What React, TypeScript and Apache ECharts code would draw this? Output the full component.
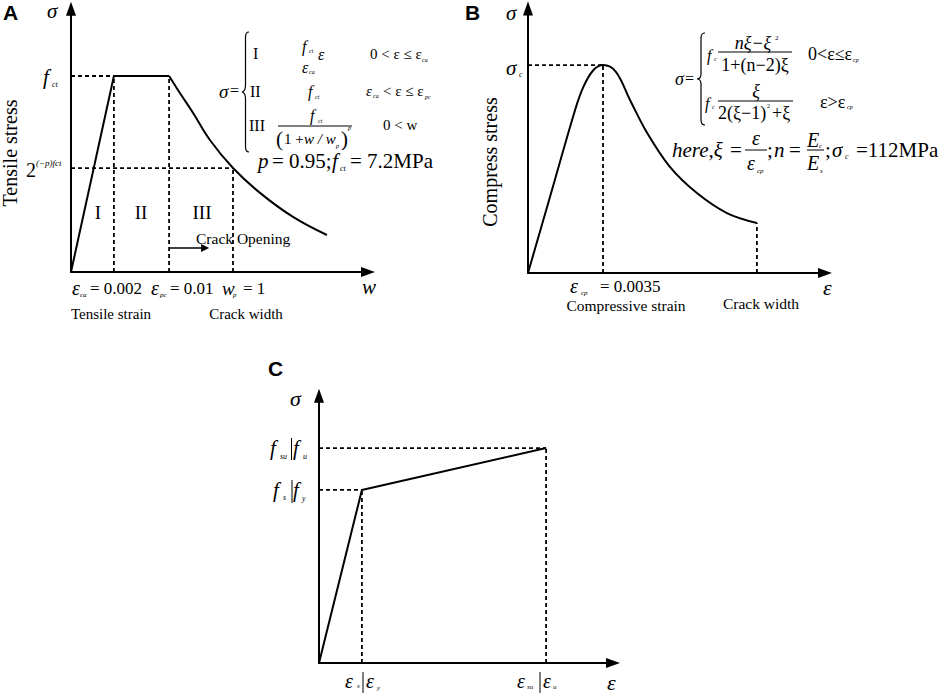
import React, { useEffect, useRef } from 'react';
import * as echarts from 'echarts';

// ---------- Data (schematic units) ----------
// Panel A: tensile stress vs strain / crack width
const A_LOADING = [[0, 0], [14.3, 72.6], [32.7, 72.6]];
const A_SOFTENING = [[32.7, 72.6], [36.3, 66.3], [40.7, 58.9], [46.3, 48.9], [54, 38.5], [63, 29.3], [74, 20.4], [85.3, 13.7]];
const A_GUIDE_BOTH = [[14.3, 72.6], [54, 38.5]];
const A_GUIDE_VERTICAL = [[32.7, 72.6]];
const A_CRACK_ARROW = [[32.7, 8.9], [44.7, 8.9]];

// Panel B: compressive stress
const B_CURVE = [[0, 0], [7.8, 30], [15.7, 60.4], [18.5, 69], [21.7, 75], [25, 77], [29.3, 74.5], [34, 64.1], [39.7, 51.9], [47.3, 39.3], [56.3, 29.6], [66.3, 22.2], [76.3, 18.5]];
const B_GUIDE_BOTH = [[25, 77]];
const B_GUIDE_VERTICAL = [[76.3, 18.5]];

// Panel C: steel bilinear
const C_CURVE = [[0, 0], [14.3, 64.1], [75.7, 79.6]];
const C_GUIDE_BOTH = [[14.3, 64.1], [75.7, 79.6]];

// axis extents [xMax, yMax]
const A_EXTENT = [99, 97.5];
const B_EXTENT = [99, 98];
const C_EXTENT = [98, 99];

// ---------- Layout ----------
const PX_X = 3;
const PX_Y = 2.7;
const ORIGINS = [[71, 272], [528, 273], [319, 663]];
const EXTENTS = [A_EXTENT, B_EXTENT, C_EXTENT];

const SERIF = '"Liberation Serif", "Times New Roman", Times, serif';
const SANS = '"Liberation Sans", Arial, Helvetica, sans-serif';

echarts.graphic.registerShape(
  'braceA',
  echarts.graphic.extendPath(
    'M7,0 C4.5,0 3.5,1.5 3.5,5 L3.5,53 C3.5,57 2.5,59.5 0,60 C2.5,60.5 3.5,63 3.5,67 L3.5,115 C3.5,118.5 4.5,120 7,120',
    {}
  )
);
echarts.graphic.registerShape(
  'braceB',
  echarts.graphic.extendPath(
    'M8,0 C5,0 4,1.5 4,5 L4,41 C4,44 3,46 0,46 C3,46 4,48 4,51 L4,87 C4,90.5 5,92 8,92',
    {}
  )
);

type TOpt = { it?: boolean; align?: string; font?: string; bold?: boolean; rot?: number };
const T = (x: number, y: number, text: string, size: number, o: TOpt = {}) => ({
  type: 'text',
  x,
  y,
  rotation: o.rot || 0,
  silent: true,
  z: 10,
  style: {
    text,
    fontSize: size,
    fontFamily: o.font || SERIF,
    fontStyle: o.it ? 'italic' : 'normal',
    fontWeight: o.bold ? 'bold' : 'normal',
    fill: '#000',
    textAlign: o.align || 'left',
    textVerticalAlign: 'middle',
  },
});
const I = { it: true };
const L = (x1: number, y1: number, x2: number, y2: number, w = 1) => ({
  type: 'line',
  silent: true,
  z: 10,
  shape: { x1, y1, x2, y2 },
  style: { stroke: '#000', lineWidth: w },
});

function buildGraphics() {
  const g: any[] = [];
  // ----- Panel A -----
  g.push(T(3, 12, 'A', 21, { font: SANS, bold: true }));
  g.push(T(47, 11, 'σ', 21, I));
  g.push(T(10, 153, 'Tensile stress', 20, { align: 'center', rot: Math.PI / 2 }));
  g.push(T(43, 77, 'f', 21, I), T(52, 84, 'ct', 8, I));
  g.push(T(26, 170, '2', 20), T(36, 163, '(−p)fct', 9, I));
  g.push(T(72, 288, 'ε', 20, I), T(80, 295, 'ca', 7, I), T(90, 288, '= 0.002', 17));
  g.push(T(151, 288, 'ε', 20, I), T(160, 295, 'pc', 7, I), T(170, 288, '= 0.01', 17));
  g.push(T(222, 288, 'w', 19, I), T(233, 295, 'p', 7, I), T(243, 288, '= 1', 17));
  g.push(T(362, 287, 'w', 21, I));
  g.push(T(111, 314, 'Tensile strain', 15, { align: 'center' }), T(246, 314, 'Crack width', 15, { align: 'center' }));
  g.push(T(98, 212, 'I', 19, { align: 'center' }), T(141, 212, 'II', 19, { align: 'center' }), T(202, 212, 'III', 19, { align: 'center' }));
  g.push(T(196, 238, 'Crack Opening', 15.5));
  // formula A
  g.push(T(219, 91, 'σ', 19, I), T(230, 90, '=', 16));
  g.push({ type: 'braceA', x: 242, y: 32, silent: true, z: 10, style: { stroke: '#000', fill: 'none', lineWidth: 1.2 } });
  g.push(T(253, 53, 'I', 16), T(250, 91, 'II', 16), T(249, 125, 'III', 16));
  g.push(T(302, 46, 'f', 16, I), T(309, 51, 'ct', 6, I), T(302, 67, 'ε', 16, I), T(309, 72, 'ca', 6, I), T(318, 54, 'ε', 16, I));
  g.push(T(370, 54, '0 < ε ≤ ε', 15), T(422, 60, 'ca', 6, I));
  g.push(T(308, 91, 'f', 16, I), T(315, 97, 'ct', 6, I));
  g.push(T(366, 91, 'ε', 15, I), T(373, 96, 'ca', 6, I), T(383, 91, '< ε ≤ ε', 15), T(425, 97, 'pc', 6, I));
  g.push(T(310, 115, 'f', 16, I), T(318, 121, 'ct', 6, I), L(278, 126, 352, 126));
  g.push(T(276, 139, '(', 21), T(284, 139, '1 +', 15), T(304, 139, 'w / w', 15, I), T(336, 146, 'p', 6, I), T(341, 139, ')', 21), T(348, 128, 'p', 6, I));
  g.push(T(383, 125, '0 < w', 15));
  g.push(T(258, 161, 'p', 21, I), T(272, 161, '= 0.95;', 21), T(332, 161, 'f', 21, I), T(340, 168, 'ct', 8, I), T(350, 161, '= 7.2MPa', 21));

  // ----- Panel B -----
  g.push(T(465, 12, 'B', 21, { font: SANS, bold: true }));
  g.push(T(506, 13, 'σ', 21, I));
  g.push(T(490, 162, 'Compress stress', 20, { align: 'center', rot: Math.PI / 2 }));
  g.push(T(506, 68, 'σ', 21, I), T(519, 74, 'c', 8, I));
  g.push(T(675, 79, 'σ', 18, I), T(685, 78, '=', 16));
  g.push({ type: 'braceB', x: 697, y: 33, silent: true, z: 10, style: { stroke: '#000', fill: 'none', lineWidth: 1.2 } });
  g.push(T(707, 55, 'f', 16, I), T(714, 59, 'c', 6, I));
  g.push(T(753, 43, 'nξ−ξ', 18, { it: true, align: 'center' }), T(775, 38, '2', 7), L(718, 52, 792, 52));
  g.push(T(755, 65, '1+(n−2)ξ', 18, { align: 'center' }));
  g.push(T(808, 54, '0<ε≤ε', 18), T(853, 60, 'cp', 6, I));
  g.push(T(705, 103, 'f', 16, I), T(712, 107, 'c', 6, I));
  g.push(T(756, 91, 'ξ', 18, { it: true, align: 'center' }), L(718, 101, 793, 101));
  g.push(T(718, 113, '2(ξ−1)', 18), T(767, 106, '2', 6), T(772, 113, '+ξ', 18));
  g.push(T(820, 102, 'ε>ε', 18), T(847, 107, 'cp', 6, I));
  g.push(T(672, 150, 'here,ξ', 21, I), T(730, 150, '=', 21));
  g.push(T(756, 138, 'ε', 20, { it: true, align: 'center' }), L(745, 150, 767, 150), T(747, 163, 'ε', 20, I), T(757, 171, 'cp', 7, I));
  g.push(T(767, 150, ';', 21), T(774, 150, 'n', 21, I), T(789, 150, '=', 21));
  g.push(T(807, 140, 'E', 20, I), T(819, 146, 'c', 7, I), L(807, 150, 824, 150), T(807, 163, 'E', 20, I), T(820, 171, 's', 7, I));
  g.push(T(825, 150, ';', 21), T(832, 150, 'σ', 21, I), T(845, 156, 'c', 8, I), T(856, 150, '=112MPa', 21));
  g.push(T(570, 286, 'ε', 20, I), T(581, 293, 'cp', 7, I), T(600, 286, '= 0.0035', 17));
  g.push(T(823, 287, 'ε', 22, I));
  g.push(T(626, 305, 'Compressive strain', 15.5, { align: 'center' }), T(761, 303, 'Crack width', 15.5, { align: 'center' }));

  // ----- Panel C -----
  g.push(T(268, 368, 'C', 21, { font: SANS, bold: true }));
  g.push(T(290, 398, 'σ', 22, I));
  g.push(T(270, 448, 'f', 21, I), T(280, 456, 'su', 8, I), L(291.5, 438, 291.5, 460), T(293, 448, 'f', 21, I), T(303, 456, 'u', 8, I));
  g.push(T(273, 490, 'f', 21, I), T(283, 497, 's', 8, I), L(292, 480, 292, 503), T(293, 490, 'f', 21, I), T(302, 498, 'y', 8, I));
  g.push(T(345, 681, 'ε', 20, I), T(357, 686, 's', 7, I), L(363, 672, 363, 693), T(366, 681, 'ε', 20, I), T(377, 688, 'y', 7, I));
  g.push(T(517, 681, 'ε', 20, I), T(527, 687, 'su', 7, I), L(540, 672, 540, 693), T(543, 681, 'ε', 20, I), T(553, 687, 'u', 7, I));
  g.push(T(607, 682, 'ε', 22, I));
  return g;
}

function guideSeries(idx: number, both: number[][], vert: number[][]) {
  const segs: number[][][] = [];
  both.forEach((p) => {
    segs.push([[0, p[1]], [p[0], p[1]]]);
    segs.push([[p[0], 0], [p[0], p[1]]]);
  });
  vert.forEach((p) => segs.push([[p[0], 0], [p[0], p[1]]]));
  return segs.map((s) => ({
    type: 'line',
    xAxisIndex: idx,
    yAxisIndex: idx,
    data: s,
    symbol: 'none',
    silent: true,
    lineStyle: { color: '#000', width: 1.8, type: [4, 3] },
    z: 2,
  }));
}

function solid(idx: number, data: number[][], smooth: boolean | number = false) {
  return {
    type: 'line',
    xAxisIndex: idx,
    yAxisIndex: idx,
    data,
    smooth,
    symbol: 'none',
    silent: true,
    lineStyle: { color: '#000', width: 2 },
    z: 3,
  };
}

function buildOption() {
  const grids = ORIGINS.map((o, i) => ({
    left: o[0],
    top: o[1] - EXTENTS[i][1] * PX_Y,
    width: EXTENTS[i][0] * PX_X,
    height: EXTENTS[i][1] * PX_Y,
    containLabel: false,
  }));
  const axisCommon = {
    type: 'value',
    min: 0,
    axisTick: { show: false },
    axisLabel: { show: false },
    splitLine: { show: false },
    axisLine: {
      show: true,
      symbol: ['none', 'triangle'],
      symbolSize: [10, 14],
      lineStyle: { color: '#000', width: 2 },
    },
  };
  const xAxis = EXTENTS.map((e, i) => ({ ...axisCommon, gridIndex: i, max: e[0] }));
  const yAxis = EXTENTS.map((e, i) => ({ ...axisCommon, gridIndex: i, max: e[1] }));
  const series: any[] = [
    ...guideSeries(0, A_GUIDE_BOTH, A_GUIDE_VERTICAL),
    ...guideSeries(1, B_GUIDE_BOTH, B_GUIDE_VERTICAL),
    ...guideSeries(2, C_GUIDE_BOTH, []),
    solid(0, A_LOADING),
    solid(0, A_SOFTENING, 0.4),
    solid(1, B_CURVE, 0.35),
    solid(2, C_CURVE),
    {
      type: 'lines',
      coordinateSystem: 'cartesian2d',
      xAxisIndex: 0,
      yAxisIndex: 0,
      silent: true,
      symbol: ['none', 'triangle'],
      symbolSize: [7, 8],
      lineStyle: { color: '#000', width: 1.5, opacity: 1 },
      data: [{ coords: A_CRACK_ARROW }],
      z: 4,
    },
  ];
  return {
    animation: false,
    backgroundColor: '#fff',
    grid: grids,
    xAxis,
    yAxis,
    series,
    graphic: { elements: buildGraphics() },
  };
}

export default function App() {
  const ref = useRef<HTMLDivElement>(null);
  useEffect(() => {
    const chart = echarts.init(ref.current!, null, { renderer: 'svg' });
    chart.setOption(buildOption() as any);
    return () => chart.dispose();
  }, []);
  return (
    <div
      ref={ref}
      style={{ position: 'fixed', left: 0, top: 0, width: 941, height: 697, background: '#fff' }}
    />
  );
}
